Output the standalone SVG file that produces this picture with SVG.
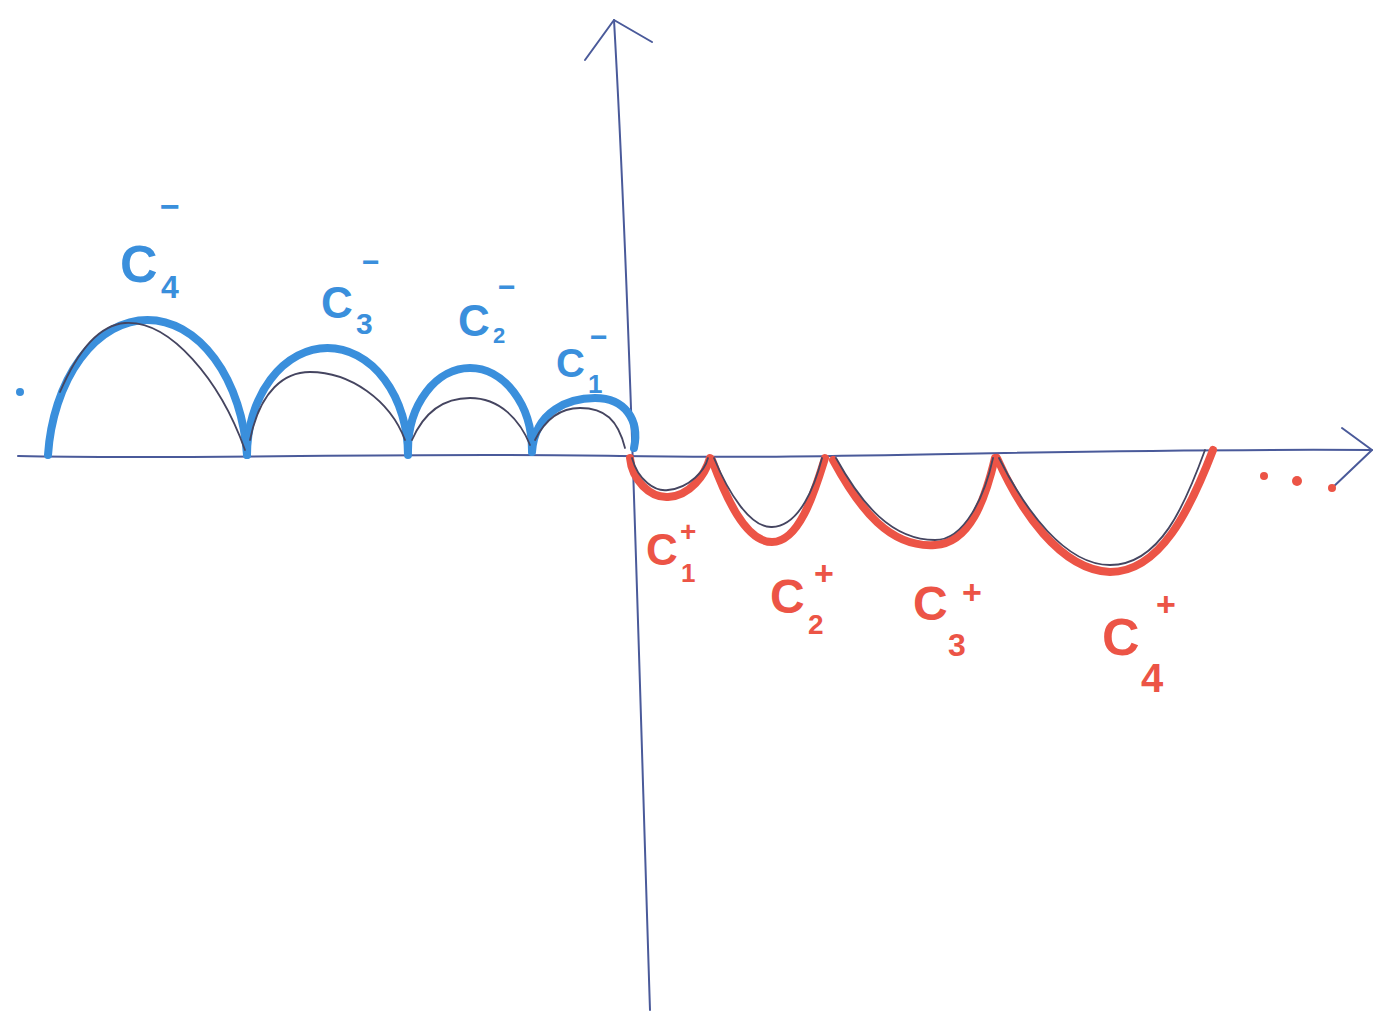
<svg xmlns="http://www.w3.org/2000/svg" width="1382" height="1014" viewBox="0 0 1382 1014">
<style>
.axis{fill:none;stroke:#4a5a9a;stroke-width:2;stroke-linecap:round;stroke-linejoin:round}
.blue{fill:none;stroke:#3a8fdc;stroke-width:8;stroke-linecap:round}
.red{fill:none;stroke:#ec5446;stroke-width:8;stroke-linecap:round}
.thin{fill:none;stroke:#454560;stroke-width:1.8;stroke-linecap:round}
.lb{font-family:"Liberation Sans",Arial,sans-serif;font-weight:bold;fill:#3a8fdc}
.lr{font-family:"Liberation Sans",Arial,sans-serif;font-weight:bold;fill:#ec5446}
</style>
<rect width="1382" height="1014" fill="#ffffff"/>
<g id="axes">
<path class="axis" d="M18,456 C200,460 400,452 620,456 C850,460 1050,448 1372,450"/>
<path class="axis" d="M1342,428 L1372,450 L1330,490"/>
<path class="axis" d="M650,1010 C640,700 630,300 614,20"/>
<path class="axis" d="M585,60 L614,20 L652,42"/>
</g>
<g id="blue-arcs">
<path class="blue" d="M48,455 A100,150 0 0 1 247,455"/>
<path class="blue" d="M247,455 A80.5,107 0 0 1 408,455"/>
<path class="blue" d="M408,450 A62,82 0 0 1 532,450"/>
<path class="blue" d="M532,452 C535,410 570,398 595,398 C625,398 640,420 634,448"/>
<path class="thin" d="M60,392 C78,350 100,325 125,323 C170,320 220,380 245,450"/>
<path class="thin" d="M250,440 C260,390 285,372 310,372 C350,372 390,400 405,440"/>
<path class="thin" d="M412,440 C425,410 445,398 470,398 C500,398 520,420 530,445"/>
<path class="thin" d="M535,440 C545,420 560,408 580,408 C605,408 618,420 625,448"/>
<circle cx="20" cy="392" r="4" fill="#3a8fdc"/>
</g>
<g id="red-cusps">
<path class="red" d="M630,458 C632,480 650,498 668,497 C690,496 705,475 710,458"/>
<path class="red" d="M712,460 C725,495 745,542 772,542 C800,542 815,490 825,458"/>
<path class="red" d="M833,460 C860,510 890,548 935,545 C970,543 985,500 995,458"/>
<path class="red" d="M997,458 C1020,510 1060,570 1110,572 C1160,572 1190,510 1213,450"/>
<path class="thin" d="M632,458 C638,480 655,492 668,490 C690,488 705,470 708,458"/>
<path class="thin" d="M714,458 C728,492 750,528 772,527 C800,526 815,485 822,458"/>
<path class="thin" d="M836,458 C862,505 892,540 935,540 C965,540 985,495 993,458"/>
<path class="thin" d="M999,458 C1025,510 1065,565 1110,565 C1160,565 1185,505 1205,450"/>
<circle cx="1264" cy="476" r="4" fill="#ec5446"/>
<circle cx="1297" cy="481" r="5" fill="#ec5446"/>
<circle cx="1332" cy="488" r="4" fill="#ec5446"/>
</g>
<g id="label-c4-minus">
<text class="lb" x="120" y="282" font-size="52">C</text>
<text class="lb" x="161" y="298" font-size="32">4</text>
<text class="lb" x="160" y="218" font-size="34">−</text>
</g>
<g id="label-c3-minus">
<text class="lb" x="321" y="318" font-size="44">C</text>
<text class="lb" x="356" y="334" font-size="30">3</text>
<text class="lb" x="362" y="272" font-size="30">−</text>
</g>
<g id="label-c2-minus">
<text class="lb" x="458" y="336" font-size="44">C</text>
<text class="lb" x="493" y="343" font-size="22">2</text>
<text class="lb" x="498" y="297" font-size="30">−</text>
</g>
<g id="label-c1-minus">
<text class="lb" x="556" y="377" font-size="40">C</text>
<text class="lb" x="588" y="393" font-size="26">1</text>
<text class="lb" x="590" y="347" font-size="30">−</text>
</g>
<g id="label-c1-plus">
<text class="lr" x="646" y="565" font-size="44">C</text>
<text class="lr" x="680" y="541" font-size="28">+</text>
<text class="lr" x="681" y="582" font-size="26">1</text>
</g>
<g id="label-c2-plus">
<text class="lr" x="770" y="613" font-size="48">C</text>
<text class="lr" x="814" y="585" font-size="34">+</text>
<text class="lr" x="808" y="634" font-size="28">2</text>
</g>
<g id="label-c3-plus">
<text class="lr" x="913" y="620" font-size="48">C</text>
<text class="lr" x="962" y="604" font-size="34">+</text>
<text class="lr" x="948" y="656" font-size="32">3</text>
</g>
<g id="label-c4-plus">
<text class="lr" x="1102" y="655" font-size="52">C</text>
<text class="lr" x="1156" y="616" font-size="34">+</text>
<text class="lr" x="1141" y="692" font-size="40">4</text>
</g>
</svg>
